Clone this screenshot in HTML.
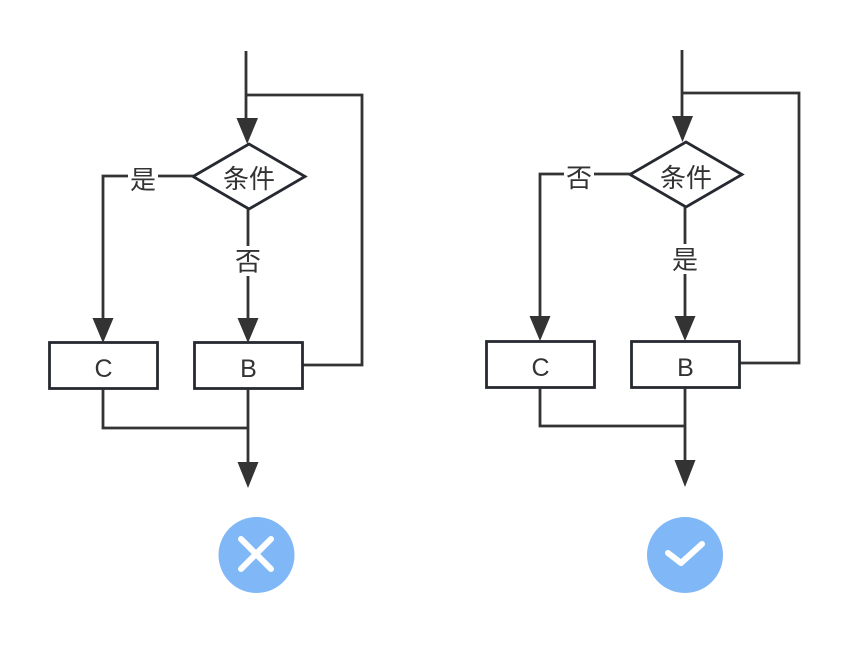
<!DOCTYPE html>
<html>
<head>
<meta charset="utf-8">
<style>
html,body{margin:0;padding:0;background:#fff;}
svg{display:block;}
text{font-family:"Liberation Sans","Noto Sans CJK SC",sans-serif;fill:#333;}
</style>
</head>
<body>
<svg width="849" height="646" viewBox="0 0 849 646" xmlns="http://www.w3.org/2000/svg">
<g fill="none" stroke="#333" stroke-width="2.8">
  <!-- LEFT -->
  <line x1="246" y1="51" x2="246" y2="120"/>
  <polyline points="246,95 362,95 362,365 303,365"/>
  <polygon points="193,176.5 249,144 305,176.5 249,209" stroke="#262a30"/>
  <polyline points="193,176 103,176 103,320"/>
  <line x1="248" y1="209" x2="248" y2="320"/>
  <rect x="49.5" y="342.5" width="108" height="46" stroke="#262a30"/>
  <rect x="194.5" y="342.5" width="108" height="46" stroke="#262a30"/>
  <polyline points="103,389 103,428 248,428"/>
  <line x1="248" y1="389" x2="248" y2="464"/>
  <!-- RIGHT -->
  <line x1="682" y1="50" x2="682" y2="118"/>
  <polyline points="682,93 799,93 799,363 740,363"/>
  <polygon points="630,174.5 686,142 742,174.5 686,207" stroke="#262a30"/>
  <polyline points="630,174 540,174 540,318"/>
  <line x1="685" y1="207" x2="685" y2="318"/>
  <rect x="486.5" y="341.5" width="108" height="46" stroke="#262a30"/>
  <rect x="631.5" y="341.5" width="108" height="46" stroke="#262a30"/>
  <polyline points="540,388 540,426 685,426"/>
  <line x1="685" y1="388" x2="685" y2="462"/>
</g>
<g fill="#333">
  <polygon points="236.5,118 258,118 247.2,144"/>
  <polygon points="92.5,318 113.5,318 103,343"/>
  <polygon points="237.5,318 258.5,318 248,343"/>
  <polygon points="237.5,462 258.5,462 248,488"/>
  <polygon points="672,116 693,116 682.5,142"/>
  <polygon points="529.5,316 550.5,316 540,341"/>
  <polygon points="674.5,316 695.5,316 685,341"/>
  <polygon points="674.5,460 695.5,460 685,487"/>
</g>
<!-- label backgrounds -->
<rect x="128" y="165" width="30" height="28" fill="#fff"/>
<rect x="233" y="246" width="30" height="30" fill="#fff"/>
<rect x="564" y="163" width="30" height="28" fill="#fff"/>
<rect x="670" y="244" width="30" height="30" fill="#fff"/>
<!-- text -->
<g font-size="26" text-anchor="middle">
  <text x="249" y="188">条件</text>
  <text x="143" y="189">是</text>
  <text x="248" y="270.5">否</text>
  <text x="686" y="187">条件</text>
  <text x="579" y="187">否</text>
  <text x="685" y="269">是</text>
</g>
<g font-size="25" text-anchor="middle">
  <text x="103.5" y="377">C</text>
  <text x="248.5" y="377">B</text>
  <text x="540.5" y="376">C</text>
  <text x="685.5" y="376">B</text>
</g>
<!-- icons -->
<circle cx="256.5" cy="555" r="38" fill="#80b8f7"/>
<g stroke="#fff" stroke-width="6" stroke-linecap="round">
  <line x1="241" y1="539" x2="271" y2="569"/>
  <line x1="271" y1="539" x2="241" y2="569"/>
</g>
<circle cx="685" cy="555" r="38" fill="#80b8f7"/>
<polyline points="668,553 681,563 702,544" fill="none" stroke="#fff" stroke-width="6" stroke-linecap="round" stroke-linejoin="round"/>
</svg>
</body>
</html>
